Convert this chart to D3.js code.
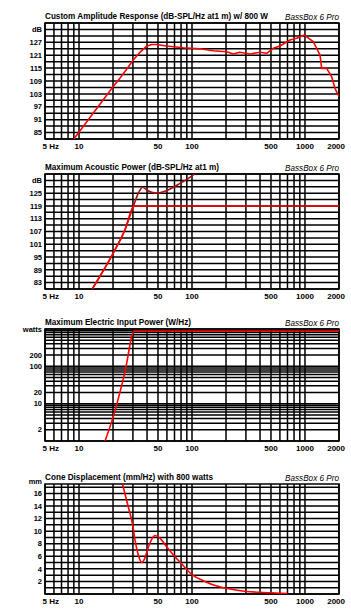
<!DOCTYPE html>
<html>
<head>
<meta charset="utf-8">
<script src="https://cdn.jsdelivr.net/npm/d3@7"></script>
<style>
  body { margin: 0; background: #fff; }
  svg { display: block; }
  text { font-family: "Liberation Sans", Arial, sans-serif; }
</style>
</head>
<body>
<div id="chart"></div>
<script>
// shared frequency axis
var freqTicks = [5, 10, 50, 100, 500, 1000, 2000];
var freqLabels = ["5 Hz", "10", "50", "100", "500", "1000", "2000"];

// panel 1 - custom amplitude response
var ampFreq = [9, 20, 23, 26.5, 30.2, 35, 39.7, 44, 48.6, 59.6, 83.5, 117, 154, 202, 232, 264, 327, 400, 458, 524, 601, 736, 845, 986, 1184, 1358, 1405, 1556, 1722, 1843, 2000];
var ampDb = [82, 106.3, 110.3, 114.6, 118.8, 122.6, 125.2, 126, 126, 125.3, 124.5, 124, 123.1, 122.6, 121.6, 122.4, 121.6, 122.4, 121.9, 124.2, 125.3, 128.1, 128.9, 130.4, 127.3, 121.1, 114.9, 114.9, 111, 105.6, 101.7];
var ampTicks = [85, 91, 97, 103, 109, 115, 121, 127, 133];
var ampTickLabels = ["85", "91", "97", "103", "109", "115", "121", "127", "dB"];

// panel 2 - maximum acoustic power
var splExcFreq = [13.1, 20.1, 25.5, 30.2, 33.5, 36.6, 39.7, 44, 48.6, 59.6, 78.2, 102, 110];
var splExcDb = [80, 96.9, 107.8, 118.7, 125, 127.8, 126.5, 125.4, 125, 126.2, 129.6, 133.5, 135];
var splMaxFreq = [13.1, 20.1, 25.5, 30.2, 30.8, 2000];
var splMaxDb = [80, 96.9, 107.8, 118.7, 119, 119];
var splTicks = [83, 89, 95, 101, 107, 113, 119, 125, 131];
var splTickLabels = ["83", "89", "95", "101", "107", "113", "119", "125", "dB"];

// panel 3 - maximum electric input power
var powFreq = [17, 20.1, 25.5, 30.8, 2000];
var powWatts = [1, 4.5, 70, 880, 880];
var powTicks = [2, 10, 20, 100, 200, 1000];
var powTickLabels = ["2", "10", "20", "100", "200", "watts"];

// panel 4 - cone displacement
var dispFreq = [22, 24.2, 27, 29.9, 31.3, 33.5, 35.9, 38, 41, 44, 47, 52, 59.7, 70, 80, 100, 130, 160, 200, 300, 500, 700];
var dispMm = [21, 17.6, 14.2, 10.9, 8.6, 6.2, 5.0, 5.6, 7.4, 8.7, 9.3, 8.9, 7.5, 6.0, 4.9, 3.1, 2.0, 1.35, 0.9, 0.4, 0.2, 0.08];
var dispTicks = [2, 4, 6, 8, 10, 12, 14, 16, 18];
var dispTickLabels = ["2", "4", "6", "8", "10", "12", "14", "16", "mm"];

var W = 351, H = 612;
var left = 45, right = 339;

var svg = d3.select("#chart").append("svg")
    .attr("width", W)
    .attr("height", H);

var x = d3.scaleLog().domain([5, 2000]).range([left, right]);

function drawPanel(p, idx) {
    var y = p.y;
    var g = svg.append("g");

    // clip for curves
    g.append("clipPath").attr("id", "clip" + idx)
        .append("rect")
        .attr("x", left).attr("y", p.top)
        .attr("width", right - left).attr("height", p.bottom - p.top);

    // vertical grid
    g.selectAll(".vg").data(x.ticks())
        .enter().append("line")
        .attr("x1", function (d) { return x(d); })
        .attr("x2", function (d) { return x(d); })
        .attr("y1", p.top).attr("y2", p.bottom)
        .attr("stroke", "#000").attr("stroke-width", 1.5);

    // horizontal grid
    g.selectAll(".hg").data(p.grid)
        .enter().append("line")
        .attr("x1", left).attr("x2", right)
        .attr("y1", function (d) { return y(d); })
        .attr("y2", function (d) { return y(d); })
        .attr("stroke", "#000").attr("stroke-width", 1.5);

    g.append("rect")
        .attr("x", left).attr("y", p.top)
        .attr("width", right - left).attr("height", p.bottom - p.top)
        .attr("fill", "none").attr("stroke", "#000").attr("stroke-width", 1.5);

    // curves
    p.series.forEach(function (s) {
        var pts = s.f.map(function (f, i) { return [f, s.v[i]]; });
        g.append("path")
            .datum(pts)
            .attr("clip-path", "url(#clip" + idx + ")")
            .attr("fill", "none")
            .attr("stroke", s.color)
            .attr("stroke-width", 1.6)
            .attr("stroke-linejoin", "round")
            .attr("d", d3.line()
                .curve(s.curve || d3.curveLinear)
                .x(function (d) { return x(d[0]); })
                .y(function (d) { return y(d[1]); }));
    });

    // y labels
    g.selectAll(".yl").data(p.ticks)
        .enter().append("text")
        .attr("x", 42)
        .attr("y", function (d) { return y(d) + 2.7; })
        .attr("text-anchor", "end")
        .attr("font-size", 7.5)
        .attr("font-weight", "bold")
        .text(function (d, i) { return p.tickLabels[i]; });

    // x labels
    g.selectAll(".xl").data(freqTicks)
        .enter().append("text")
        .attr("x", function (d, i) {
            if (i == 0) return left - 2.5;
            if (d == 2000) return right + 6;
            return x(d);
        })
        .attr("y", p.bottom + 10)
        .attr("text-anchor", function (d, i) {
            if (i == 0) return "start";
            if (d == 2000) return "end";
            return "middle";
        })
        .attr("font-size", 8)
        .attr("font-weight", "bold")
        .text(function (d, i) { return freqLabels[i]; });

    // titles
    g.append("text")
        .attr("x", left).attr("y", p.top - 4)
        .attr("font-size", 8.5)
        .attr("font-weight", "bold")
        .attr("textLength", p.titleLen)
        .attr("lengthAdjust", "spacingAndGlyphs")
        .text(p.title);

    g.append("text")
        .attr("x", right).attr("y", p.top - 3.5)
        .attr("text-anchor", "end")
        .attr("font-size", 8.5)
        .attr("font-style", "italic")
        .attr("textLength", 54)
        .attr("lengthAdjust", "spacingAndGlyphs")
        .text("BassBox 6 Pro");
}

var panels = [
    {
        title: "Custom Amplitude Response (dB-SPL/Hz at1 m) w/ 800 W", titleLen: 223,
        top: 23, bottom: 139,
        y: d3.scaleLinear().domain([82, 136]).range([139, 23]),
        grid: d3.range(82, 137, 3),
        ticks: ampTicks, tickLabels: ampTickLabels,
        series: [{ f: ampFreq, v: ampDb, color: "#ff0000" }]
    },
    {
        title: "Maximum Acoustic Power (dB-SPL/Hz at1 m)", titleLen: 174,
        top: 174, bottom: 289,
        y: d3.scaleLinear().domain([80, 134]).range([289, 174]),
        grid: d3.range(80, 135, 3),
        ticks: splTicks, tickLabels: splTickLabels,
        series: [
            { f: splExcFreq, v: splExcDb, color: "#a81010", curve: d3.curveMonotoneX },
            { f: splMaxFreq, v: splMaxDb, color: "#ff0000", curve: d3.curveMonotoneX }
        ]
    },
    {
        title: "Maximum Electric Input Power (W/Hz)", titleLen: 146,
        top: 329, bottom: 441,
        y: d3.scaleLog().domain([1, 1000]).range([441, 329]),
        grid: d3.scaleLog().domain([1, 1000]).ticks(),
        ticks: powTicks, tickLabels: powTickLabels,
        series: [{ f: powFreq, v: powWatts, color: "#ff0000", curve: d3.curveMonotoneX }]
    },
    {
        title: "Cone Displacement (mm/Hz) with 800 watts", titleLen: 168,
        top: 484, bottom: 594,
        y: d3.scaleLinear().domain([0, 17.5]).range([594, 484]),
        grid: d3.range(0, 18, 1),
        ticks: dispTicks, tickLabels: dispTickLabels,
        series: [{ f: dispFreq, v: dispMm, color: "#ff0000", curve: d3.curveMonotoneX }]
    }
];

panels.forEach(drawPanel);
</script>
</body>
</html>
